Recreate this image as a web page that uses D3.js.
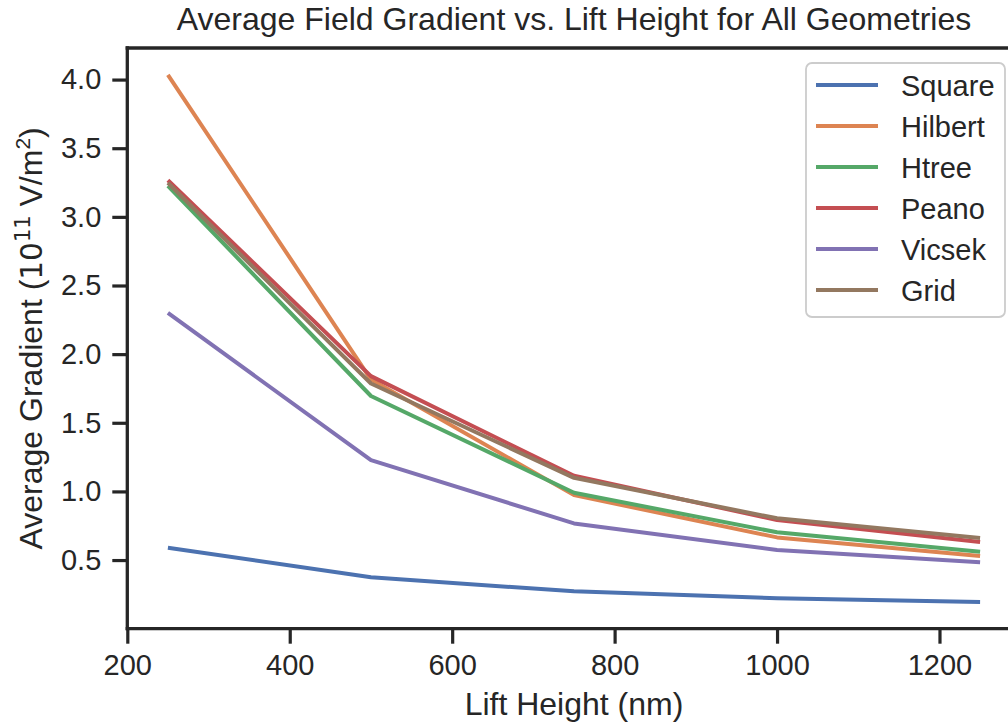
<!DOCTYPE html>
<html>
<head>
<meta charset="utf-8">
<script src="https://cdn.jsdelivr.net/npm/d3@7"></script>
<style>
  html, body { margin: 0; padding: 0; background: #ffffff; }
  svg { display: block; font-family: Arial, "Liberation Sans", sans-serif; }
</style>
</head>
<body>
<svg id="chart" width="1008" height="723"></svg>
<script>
// Lift heights (nm) at which the gradient was sampled
const liftHeights = [250, 500, 750, 1000, 1250];

// Average field gradient per geometry, in units of 1e11 V/m^2
const square  = [0.59, 0.375, 0.272, 0.222, 0.195];
const hilbert = [4.035, 1.815, 0.973, 0.665, 0.53];
const htree   = [3.225, 1.695, 0.99, 0.702, 0.56];
const peano   = [3.267, 1.84, 1.114, 0.791, 0.632];
const vicsek  = [2.30, 1.228, 0.767, 0.573, 0.484];
const grid    = [3.247, 1.786, 1.099, 0.804, 0.66];

const seriesNames = ["Square", "Hilbert", "Htree", "Peano", "Vicsek", "Grid"];
const seriesValues = [square, hilbert, htree, peano, vicsek, grid];
const seriesColors = ["#4C72B0", "#DD8452", "#55A868", "#C44E52", "#8172B3", "#937860"];

const xTicks = [200, 400, 600, 800, 1000, 1200];
const yTicks = [0.5, 1.0, 1.5, 2.0, 2.5, 3.0, 3.5, 4.0];

const ink = "#262626";
const svg = d3.select("#chart");

const plot = { left: 127.3, right: 1020.7, top: 48, bottom: 628.7 };

const x = d3.scaleLinear().domain([200, 1300]).range([plot.left, plot.right]);
const y = d3.scaleLinear().domain([0, 4.23]).range([plot.bottom, plot.top]);

// Series lines
const line = d3.line()
  .x((d, i) => x(liftHeights[i]))
  .y(d => y(d));

svg.append("g")
  .selectAll("path")
  .data(seriesValues)
  .join("path")
  .attr("d", d => line(d))
  .attr("fill", "none")
  .attr("stroke", (d, i) => seriesColors[i])
  .attr("stroke-width", 4)
  .attr("stroke-linejoin", "round")
  .attr("stroke-linecap", "butt");

// Axes
const xAxis = svg.append("g")
  .attr("transform", `translate(0,${plot.bottom})`)
  .call(d3.axisBottom(x).tickValues(xTicks).tickFormat(d3.format("d"))
    .tickSize(15).tickSizeOuter(0).tickPadding(11));

const yAxis = svg.append("g")
  .attr("transform", `translate(${plot.left},0)`)
  .call(d3.axisLeft(y).tickValues(yTicks).tickFormat(d3.format(".1f"))
    .tickSize(15).tickSizeOuter(0).tickPadding(11));

[xAxis, yAxis].forEach(g => {
  g.select(".domain").remove();
  g.selectAll(".tick line").attr("stroke", ink).attr("stroke-width", 3.2);
  g.selectAll(".tick text")
    .attr("fill", ink)
    .style("font-family", "Arial, 'Liberation Sans', sans-serif")
    .style("font-size", "29px");
});

// Frame (spines)
const spine = svg.append("g")
  .attr("stroke", ink)
  .attr("stroke-width", 3.3)
  .attr("stroke-linecap", "square");
spine.append("line").attr("x1", plot.left).attr("x2", plot.left).attr("y1", plot.top).attr("y2", plot.bottom);
spine.append("line").attr("x1", plot.left).attr("x2", plot.right).attr("y1", plot.bottom).attr("y2", plot.bottom);
spine.append("line").attr("x1", plot.left).attr("x2", plot.right).attr("y1", plot.top).attr("y2", plot.top);
spine.append("line").attr("x1", plot.right).attr("x2", plot.right).attr("y1", plot.top).attr("y2", plot.bottom);

const midX = (plot.left + plot.right) / 2;
const midY = (plot.top + plot.bottom) / 2;

// Title
svg.append("text")
  .attr("x", midX)
  .attr("y", 30)
  .attr("text-anchor", "middle")
  .attr("fill", ink)
  .style("font-size", "32px")
  .text("Average Field Gradient vs. Lift Height for All Geometries");

// X axis label
svg.append("text")
  .attr("x", midX)
  .attr("y", 715)
  .attr("text-anchor", "middle")
  .attr("fill", ink)
  .style("font-size", "32px")
  .text("Lift Height (nm)");

// Y axis label with superscripts
const yl = svg.append("text")
  .attr("transform", `translate(42,${midY}) rotate(-90)`)
  .attr("text-anchor", "middle")
  .attr("fill", ink)
  .style("font-size", "32px");
yl.append("tspan").text("Average Gradient (");
yl.append("tspan").style("font-family", "'DejaVu Sans', sans-serif").style("font-size", "29.5px").text("10");
yl.append("tspan").style("font-family", "'DejaVu Sans', sans-serif").style("font-size", "21px").attr("dy", -12).text("11");
yl.append("tspan").attr("dy", 12).text(" V/m");
yl.append("tspan").style("font-size", "21px").attr("dy", -12).text("2");
yl.append("tspan").attr("dy", 12).text(")");

// Legend
const legend = svg.append("g");
legend.append("rect")
  .attr("x", 806).attr("y", 63)
  .attr("width", 199).attr("height", 254)
  .attr("rx", 6).attr("ry", 6)
  .attr("fill", "#ffffff").attr("fill-opacity", 0.8)
  .attr("stroke", "#cccccc").attr("stroke-width", 1.8);

const rowY = d3.scalePoint().domain(seriesNames).range([85, 290]);

const items = legend.selectAll("g.item")
  .data(seriesNames)
  .join("g")
  .attr("class", "item")
  .attr("transform", d => `translate(0,${rowY(d)})`);

items.append("line")
  .attr("x1", 816).attr("x2", 878)
  .attr("y1", 0).attr("y2", 0)
  .attr("stroke", (d, i) => seriesColors[i])
  .attr("stroke-width", 4);

items.append("text")
  .attr("x", 901)
  .attr("y", 10.5)
  .attr("fill", ink)
  .style("font-size", "29px")
  .text(d => d);
</script>
</body>
</html>
